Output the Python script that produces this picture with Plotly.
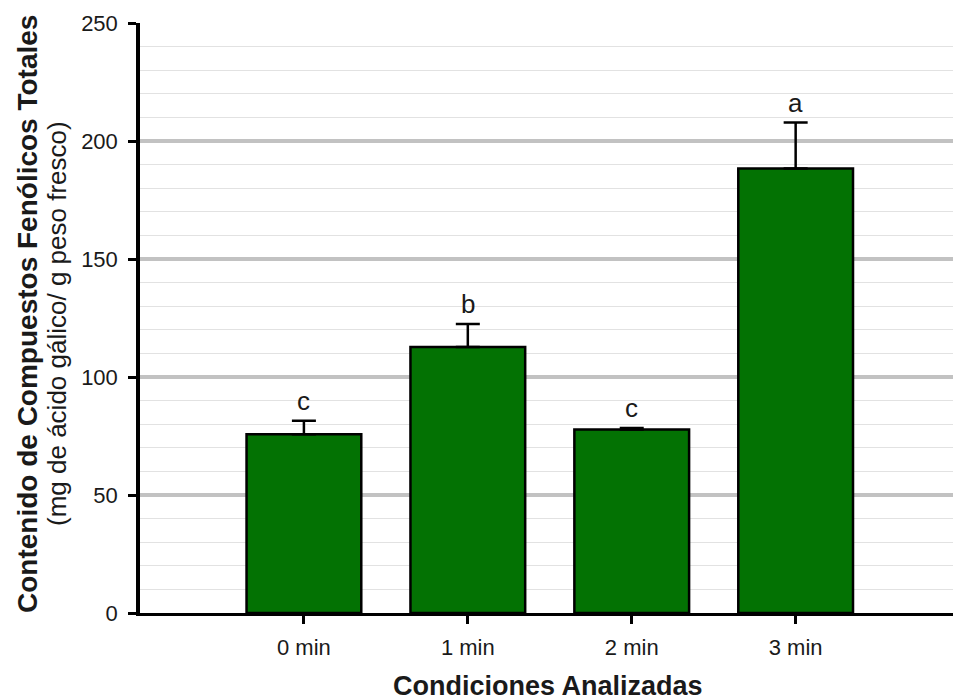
import plotly.graph_objects as go

# Contenido de compuestos fenólicos totales por tiempo de tratamiento
condiciones = ["0 min", "1 min", "2 min", "3 min"]
medias = [75.7, 112.7, 77.8, 188.4]
error_sup = [5.8, 9.8, 0.6, 19.4]
letras = ["c", "b", "c", "a"]

verde = "#037203"
fuente = "Liberation Sans, Arial, sans-serif"
texto = "#1a1a1a"

fig = go.Figure()
fig.add_trace(go.Bar(
    x=condiciones,
    y=medias,
    width=0.7,
    marker=dict(color=verde, line=dict(color="black", width=2.5)),
    error_y=dict(
        type="data",
        array=error_sup,
        arrayminus=[0] * len(error_sup),
        symmetric=False,
        color="black",
        thickness=2.5,
        width=12,
    ),
    showlegend=False,
))

# letras de significancia sobre cada barra
for cat, m, e, l in zip(condiciones, medias, error_sup, letras):
    fig.add_annotation(
        x=cat, y=m + e, text=l, showarrow=False,
        yanchor="bottom", yshift=3,
        font=dict(family=fuente, size=26, color=texto),
    )

# títulos de los ejes
fig.add_annotation(
    xref="paper", yref="paper", x=(27 - 140) / 813, y=(613 - 314) / 590,
    text="<b>Contenido de Compuestos Fenólicos Totales</b>",
    textangle=-90, showarrow=False, xanchor="center", yanchor="middle",
    font=dict(family=fuente, size=28, color=texto),
)
fig.add_annotation(
    xref="paper", yref="paper", x=(57 - 140) / 813, y=(613 - 324) / 590,
    text="(mg de ácido gálico/ g peso fresco)",
    textangle=-90, showarrow=False, xanchor="center", yanchor="middle",
    font=dict(family=fuente, size=26, color=texto),
)
fig.add_annotation(
    xref="paper", yref="paper", x=(548 - 140) / 813, y=-(686 - 613) / 590,
    text="<b>Condiciones Analizadas</b>",
    showarrow=False, xanchor="center", yanchor="middle",
    font=dict(family=fuente, size=27, color=texto),
)

fig.update_layout(
    width=953, height=700, autosize=False,
    margin=dict(l=140, r=0, t=23, b=87),
    plot_bgcolor="white", paper_bgcolor="white",
    bargap=0.3,
)
fig.update_xaxes(
    type="category", range=[-1, 3.96],
    showline=True, linecolor="black", linewidth=3,
    ticks="outside", ticklen=8, tickwidth=2.5, tickcolor="black",
    ticklabelstandoff=5,
    tickfont=dict(family=fuente, size=22, color=texto),
    showgrid=False, zeroline=False,
)
fig.update_yaxes(
    range=[0, 250], tickvals=[0, 50, 100, 150, 200, 250],
    showline=True, linecolor="black", linewidth=3.5,
    ticks="outside", ticklen=8, tickwidth=2.5, tickcolor="black",
    ticklabelstandoff=6,
    tickfont=dict(family=fuente, size=22, color=texto),
    showgrid=True, gridcolor="#c2c2c2", gridwidth=4,
    minor=dict(dtick=10, showgrid=True, gridcolor="#e2e2e2", gridwidth=1.2, ticks=""),
    zeroline=False,
)

fig.write_html("out.html")
